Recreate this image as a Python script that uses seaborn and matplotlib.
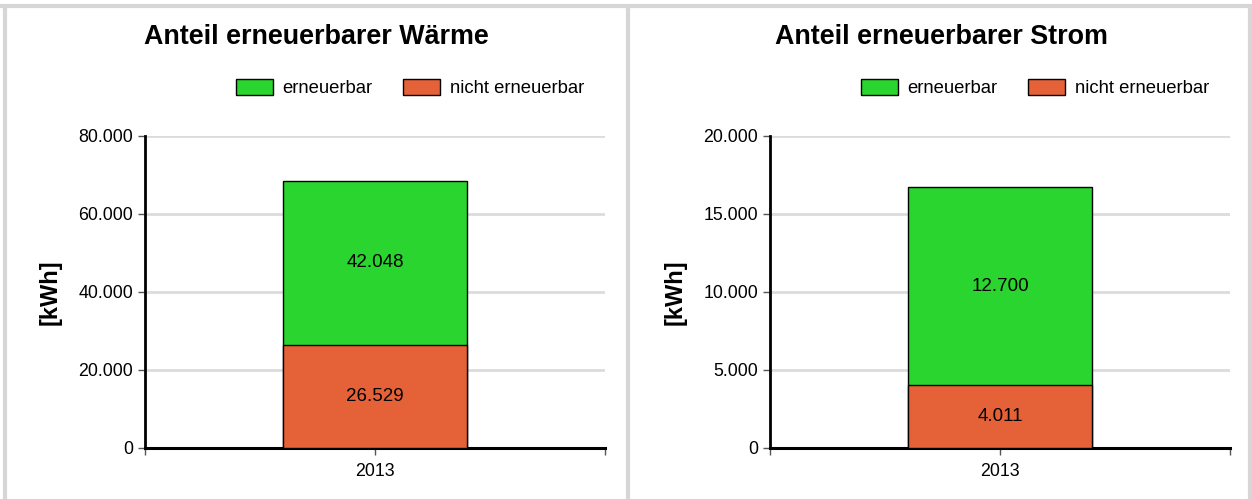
import matplotlib
matplotlib.use("Agg")
import matplotlib.pyplot as plt
import matplotlib.patches as mpatches
from matplotlib.lines import Line2D
from matplotlib.ticker import FuncFormatter
import pandas as pd
import seaborn as sns

sns.set_style("white")
plt.rcParams["font.family"] = ["Liberation Sans", "DejaVu Sans"]
plt.rcParams["text.color"] = "black"
plt.rcParams["xtick.color"] = "black"
plt.rcParams["ytick.color"] = "black"
plt.rcParams["axes.labelcolor"] = "black"

years = ["2013"]
titles = ["Anteil erneuerbarer Wärme", "Anteil erneuerbarer Strom"]
waerme_erneuerbar = [42048]
waerme_nicht = [26529]
strom_erneuerbar = [12700]
strom_nicht = [4011]
waerme_yticks = [0, 20000, 40000, 60000, 80000]
strom_yticks = [0, 5000, 10000, 15000, 20000]

green = "#2ad52f"
red = "#e56138"
grid_col = "#dcdcdc"


def de(v, pos=None):
    return f"{v:,.0f}".replace(",", ".")


fig = plt.figure(figsize=(12.52, 4.99), dpi=100)

panels = [
    (titles[0], waerme_erneuerbar, waerme_nicht, waerme_yticks, 145),
    (titles[1], strom_erneuerbar, strom_nicht, strom_yticks, 770),
]

for title, ern, nicht, yticks, left_px in panels:
    ax = fig.add_axes([left_px / 1252, 51 / 499, 460 / 1252, 312 / 499])
    df = pd.DataFrame({"jahr": years,
                       "gesamt": [a + b for a, b in zip(ern, nicht)],
                       "ern": ern, "nicht": nicht})
    sns.barplot(data=df, x="jahr", y="gesamt", color=green, width=0.4,
                edgecolor="black", linewidth=1, saturation=1, ax=ax, zorder=3)
    sns.barplot(data=df, x="jahr", y="nicht", color=red, width=0.4,
                edgecolor="black", linewidth=1, saturation=1, ax=ax, zorder=3)
    bars = ax.patches
    for p, v, b in zip(bars[:len(years)], ern, nicht):
        ax.text(p.get_x() + p.get_width() / 2, b + v / 2, de(v),
                ha="center", va="center", fontsize=13.5, zorder=5)
    for p, v in zip(bars[len(years):], nicht):
        ax.text(p.get_x() + p.get_width() / 2, v / 2, de(v),
                ha="center", va="center", fontsize=13.5, zorder=5)

    ax.set_xlim(-0.5, 0.5)
    ax.set_ylim(yticks[0], yticks[-1])
    ax.set_yticks(yticks)
    ax.yaxis.set_major_formatter(FuncFormatter(de))
    ax.set_xticks([-0.5, 0.5], minor=True)
    ax.tick_params(axis="both", which="both", direction="out", length=5,
                   width=1, color="#555555", labelsize=12.8, bottom=True, left=True)
    ax.tick_params(axis="x", pad=6)
    ax.grid(axis="y", color=grid_col, linewidth=2, zorder=0)
    ax.set_axisbelow(True)
    for s in ["top", "right"]:
        ax.spines[s].set_visible(False)
    ax.spines["left"].set_linewidth(2)
    ax.spines["bottom"].set_linewidth(2.2)
    ax.spines["left"].set_color("black")
    ax.spines["bottom"].set_color("black")
    ax.set_xlabel("")
    ax.set_ylabel("[kWh]", fontsize=17, fontweight="bold", labelpad=12)

    cx = (left_px - 145 + 316) / 1252
    fig.text(cx, 1 - 37 / 499, title, ha="center", va="center",
             fontsize=19.4, fontweight="bold")

    handles = [mpatches.Patch(facecolor=green, edgecolor="black", label="erneuerbar"),
               mpatches.Patch(facecolor=red, edgecolor="black", label="nicht erneuerbar")]
    ax.legend(handles=handles, loc="center right", ncol=2, frameon=False,
              bbox_to_anchor=(0.97, 1.154), fontsize=13.3, handlelength=2.0,
              handleheight=1.0, handletextpad=0.5, columnspacing=1.7,
              borderaxespad=0)

# panel borders
border = "#d6d6d6"
for x in [4.5 / 1252, 628 / 1252, 1249.5 / 1252]:
    fig.add_artist(Line2D([x, x], [0, 1 - 6 / 499], color=border, linewidth=3))
fig.add_artist(Line2D([0, 1], [1 - 6 / 499, 1 - 6 / 499], color=border, linewidth=3))

fig.savefig("out.png", dpi=100)
